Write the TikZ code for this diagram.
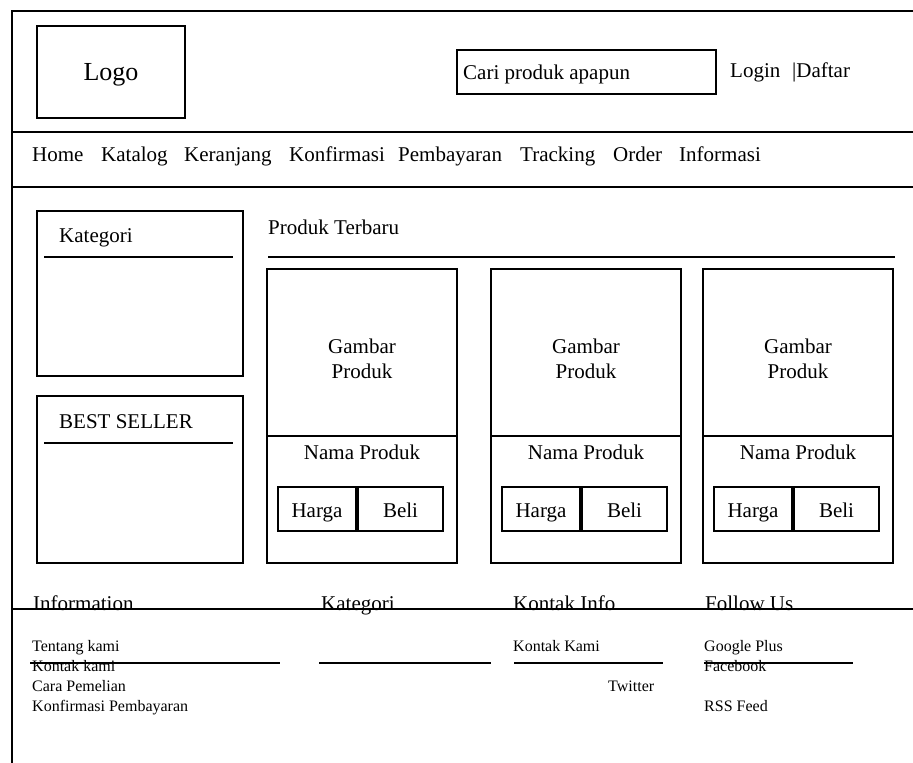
\documentclass[tikz,border=0pt]{standalone}
\usepackage{fontspec}
\setmainfont{Liberation Serif}
\begin{document}
\begin{tikzpicture}[x=1pt,y=-1pt,
 box/.style={draw,line width=1.4pt},
 rule/.style={line width=1.4pt},
 frame/.style={line width=1.8pt},
 txt/.style={inner sep=0pt,anchor=base west,font=\fontsize{21}{25}\selectfont},
 ctxt/.style={inner sep=0pt,anchor=base,font=\fontsize{21}{25}\selectfont},
 sm/.style={inner sep=0pt,anchor=base west,font=\fontsize{16}{19}\selectfont}]
\useasboundingbox (0,0) rectangle (913,763);
% frame
\draw[frame] (12,763) -- (12,11) -- (913,11);
\draw[frame] (12,132) -- (913,132);
\draw[frame] (12,187) -- (913,187);
% header
\draw[box] (37,26) rectangle (185,118);
\node[ctxt,font=\fontsize{26}{30}\selectfont] (logo) at (111,80) {Logo};
\draw[box] (457,50) rectangle (716,94);
\node[txt] (cari) at (463,79) {Cari produk apapun};
\node[txt] (login) at (730,77) {Login};
\node[txt] (daftar) at (792,77) {|Daftar};
% nav
\node[txt] (home) at (32,161) {Home};
\node[txt] (katalog) at (101,161) {Katalog};
\node[txt] (keranjang) at (184,161) {Keranjang};
\node[txt] (konfirmasi) at (289,161) {Konfirmasi};
\node[txt] (pembayaran) at (398,161) {Pembayaran};
\node[txt] (tracking) at (520,161) {Tracking};
\node[txt] (order) at (613,161) {Order};
\node[txt] (informasi) at (679,161) {Informasi};
% sidebar
\draw[box] (37,211) rectangle (243,376);
\node[txt] (kategori) at (59,242) {Kategori};
\draw[rule] (44,257) -- (233,257);
\draw[box] (37,396) rectangle (243,563);
\node[txt] (best) at (59,428) {BEST SELLER};
\draw[rule] (44,443) -- (233,443);
% products
\node[txt] (terbaru) at (268,234) {Produk Terbaru};
\draw[rule] (268,257) -- (895,257);
\foreach \l/\i in {267/1,491/2,703/3}{
  \draw[box] (\l,269) rectangle ({\l+190},563);
  \draw[rule] (\l,436) -- ({\l+190},436);
  \node[ctxt] (gambar\i) at ({\l+95},353) {Gambar};
  \node[ctxt] (produk\i) at ({\l+95},378) {Produk};
  \node[ctxt] (nama\i) at ({\l+95},459) {Nama Produk};
  \draw[box] ({\l+11},487) rectangle ({\l+89},531);
  \draw[box] ({\l+91},487) rectangle ({\l+176},531);
  \node[ctxt] (harga\i) at ({\l+50},517) {Harga};
  \node[ctxt] (beli\i) at ({\l+133.5},517) {Beli};
}
% footer
\node[txt] (finfo) at (33,610) {Information};
\node[txt] (fkat) at (321,610) {Kategori};
\node[txt] (fkontak) at (513,610) {Kontak Info};
\node[txt] (ffollow) at (705,610) {Follow Us};
\draw[frame] (12,609) -- (913,609);
\node[sm] (tentang) at (32,651) {Tentang kami};
\node[sm] (kontakkami) at (32,671) {Kontak kami};
\node[sm] (cara) at (32,691) {Cara Pemelian};
\node[sm] (konfpem) at (32,711) {Konfirmasi Pembayaran};
\node[sm] (kkami) at (513,651) {Kontak Kami};
\node[sm] (twitter) at (608,691) {Twitter};
\node[sm] (google) at (704,651) {Google Plus};
\node[sm] (facebook) at (704,671) {Facebook};
\node[sm] (rss) at (704,711) {RSS Feed};
\draw[rule] (30,663) -- (280,663);
\draw[rule] (319,663) -- (491,663);
\draw[rule] (514,663) -- (663,663);
\draw[rule] (704,663) -- (853,663);
\end{tikzpicture}
\end{document}
